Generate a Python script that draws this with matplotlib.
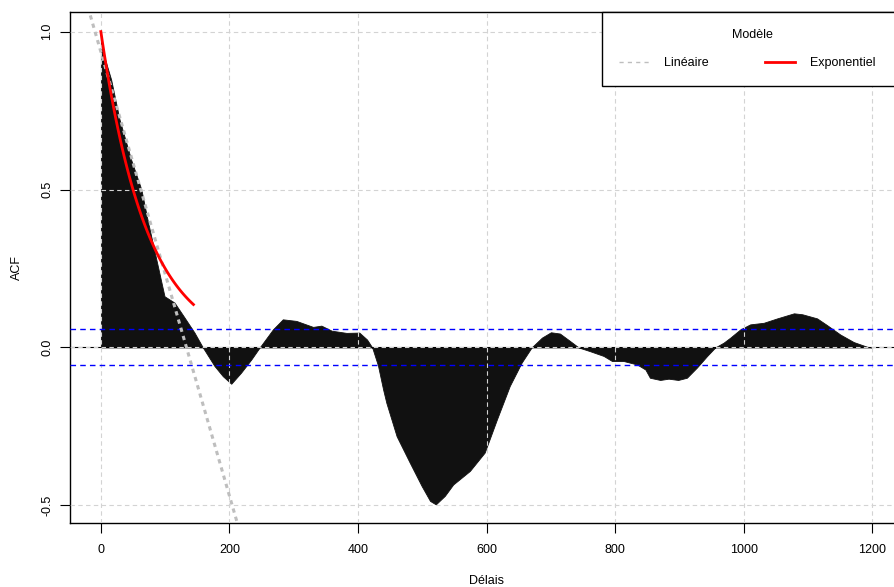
import matplotlib
matplotlib.use('Agg')
import numpy as np
import matplotlib.pyplot as plt
from matplotlib.lines import Line2D

plt.rcParams['font.family'] = ['Liberation Sans', 'DejaVu Sans']

# ACF of the series, read lag by lag along the envelope
lags = [0, 1, 16, 29, 47, 63, 72.5, 99, 114.5, 130, 145.6, 158.6, 176.8,
        189.7, 202.8, 218, 234, 247, 267.6, 283, 304, 330, 343, 359, 382,
        402, 414, 422, 431, 439, 444, 460, 480.5, 499, 512, 521, 535, 548,
        574, 597, 616, 636, 654.5, 670, 686, 700, 714, 730, 743, 761, 782,
        795, 813, 834, 847, 854, 870, 883, 898, 911.5, 927, 943, 955.6,
        968.6, 979, 994.5, 1010, 1031, 1052, 1078, 1091, 1114, 1130, 1150,
        1171, 1192, 1200]
acf = [1.0, 0.95, 0.848, 0.722, 0.595, 0.5, 0.405, 0.162, 0.142, 0.095,
       0.047, 0.0, -0.059, -0.091, -0.115, -0.08, -0.038, 0.0, 0.057,
       0.089, 0.084, 0.065, 0.069, 0.053, 0.046, 0.047, 0.025, 0.0,
       -0.057, -0.133, -0.175, -0.281, -0.365, -0.439, -0.486, -0.497,
       -0.47, -0.434, -0.391, -0.333, -0.228, -0.122, -0.048, 0.0, 0.031,
       0.048, 0.044, 0.02, 0.0, -0.012, -0.027, -0.043, -0.043, -0.054,
       -0.07, -0.096, -0.103, -0.099, -0.103, -0.096, -0.064, -0.027, 0.0,
       0.015, 0.031, 0.057, 0.073, 0.078, 0.092, 0.108, 0.105, 0.092,
       0.07, 0.041, 0.017, 0.002, 0.0]

conf_level = 0.057          # +/- bound of the white-noise band

# fitted decay models
lin_intercept, lin_slope = 0.936, -0.00703
exp_rate, exp_max_lag = 0.01386, 144

fig = plt.figure(figsize=(8.94, 5.87), dpi=100)
ax = fig.add_axes([0.0783, 0.109, 0.932, 0.8705])

ax.fill_between(lags, acf, 0, color='#111111', lw=0.6, edgecolor='#111111', zorder=1)
ax.axhline(0, color='black', lw=0.8, zorder=1.5)

ax.axhline(conf_level, color='blue', lw=1, dashes=(4, 3), zorder=4)
ax.axhline(-conf_level, color='blue', lw=1, dashes=(4, 3), zorder=4)

xl = np.array([-60, 1300])
ax.plot(xl, lin_intercept + lin_slope * xl, color='#BEBEBE', lw=2.2,
        dashes=(1.4, 1.4), zorder=5)
xe = np.linspace(0, exp_max_lag, 100)
ax.plot(xe, np.exp(-exp_rate * xe), color='red', lw=2, zorder=6)

ax.set_xlim(-48, 1248)
ax.set_ylim(-0.556, 1.062)
ax.set_xticks(range(0, 1201, 200))
ax.set_yticks([-0.5, 0.0, 0.5, 1.0])
ax.set_yticklabels(['-0.5', '0.0', '0.5', '1.0'], rotation=90, va='center')
ax.grid(True, color='#D3D3D3', lw=0.8, dashes=(4, 3))
ax.set_axisbelow(False)
ax.tick_params(direction='out', length=7, width=0.8, labelsize=9, pad=5)
ax.tick_params(axis='x', pad=8)
for s in ax.spines.values():
    s.set_linewidth(1)

ax.set_xlabel('Délais', fontsize=9, labelpad=13.5)
ax.set_ylabel('ACF', fontsize=9, labelpad=13)

handles = [Line2D([], [], color='#BEBEBE', lw=1, dashes=(3, 3)),
           Line2D([], [], color='red', lw=2)]
leg = ax.legend(handles, ['Linéaire', 'Exponentiel   '], title='Modèle', ncol=2,
                loc='upper right', borderaxespad=0, fancybox=False,
                framealpha=1, edgecolor='black', fontsize=9, title_fontsize=9,
                handlelength=2.4, handletextpad=1.2, columnspacing=4.5,
                borderpad=1.36, labelspacing=1.3)
leg.get_frame().set_linewidth(1)
leg.set_zorder(10)

fig.savefig('out.png', dpi=100)
